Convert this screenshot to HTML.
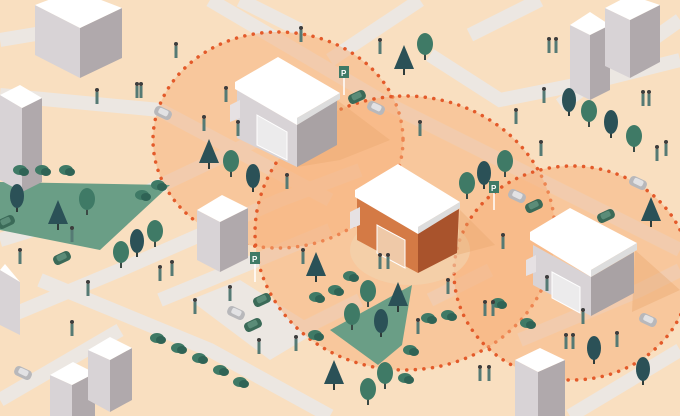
<!DOCTYPE html>
<html><head><meta charset="utf-8"><style>
html,body{margin:0;padding:0;background:#fff}
svg{display:block}
</style></head><body>
<svg width="680" height="416" viewBox="0 0 680 416" xmlns="http://www.w3.org/2000/svg">
<defs>
<g id="tr"><rect x="-1" y="0" width="2" height="12" fill="#3b4a45"/><ellipse cx="0" cy="-4" rx="8" ry="11" fill="#3f7a66"/></g>
<g id="trd"><rect x="-1" y="0" width="2" height="12" fill="#2f3c3a"/><ellipse cx="0" cy="-4" rx="7" ry="12" fill="#2b5157"/></g>
<g id="pine"><rect x="-1" y="4" width="2" height="8" fill="#2f3c3a"/><polygon points="0,-18 -10,6 10,6" fill="#2b5157"/></g>
<g id="bush"><ellipse cx="0" cy="0" rx="7" ry="5" fill="#3f7a66"/><ellipse cx="4" cy="2" rx="5" ry="4" fill="#2f6355"/></g>
<g id="car"><rect x="-9" y="-5" width="18" height="10" rx="4" fill="#b8b8bb" transform="rotate(25)"/><rect x="-5" y="-4" width="10" height="6" rx="2" fill="#e2e2e4" transform="rotate(25)"/></g>
<g id="carg"><rect x="-9" y="-5" width="18" height="10" rx="4" fill="#3b6a58" transform="rotate(-25)"/><rect x="-5" y="-4" width="10" height="6" rx="2" fill="#5b8c78" transform="rotate(-25)"/></g>
<g id="p"><rect x="-1.5" y="-6" width="3" height="12" fill="#557a74"/><circle cx="0" cy="-8" r="2" fill="#3d3d3d"/></g>
</defs>
<rect width="680" height="416" fill="#f9dfc0"/>
<g stroke="#ece7e2" stroke-width="14" fill="none" stroke-linecap="butt">
<path d="M0,40 L60,30"/>
<path d="M0,95 L160,110 L330,200"/>
<path d="M210,0 L380,100 L560,190 L680,250"/>
<path d="M240,0 L300,30"/>
<path d="M330,60 L420,0"/>
<path d="M430,55 L500,100 L600,80 L680,60"/>
<path d="M540,0 L470,35"/>
<path d="M560,105 L680,20"/>
<path d="M0,240 L130,200 L320,110"/>
<path d="M0,320 L120,270 L280,200 L360,170"/>
<path d="M40,280 L210,350 L330,416"/>
<path d="M0,400 L120,330"/>
<path d="M160,300 L330,230"/>
<path d="M300,330 L360,300"/>
<path d="M520,340 L640,290 L680,270"/>
<path d="M570,416 L680,350"/>
<path d="M430,300 L490,270"/>
</g>
<polygon points="190,300 240,280 320,330 270,360" fill="#ece7e2"/>
<g fill="#f7b077" fill-opacity="0.5" stroke="#e35a2a" stroke-width="3.5" stroke-dasharray="0.1 8.5" stroke-linecap="round">
<ellipse cx="278" cy="140" rx="125" ry="108"/>
<ellipse cx="405" cy="233" rx="150" ry="137"/>
<ellipse cx="572" cy="273" rx="118" ry="107"/>
</g>
<ellipse cx="410" cy="250" rx="60" ry="35" fill="#f1d4b0" opacity="0.6"/>
<polygon points="0,182 170,185 100,250 0,230" fill="#6a9e86"/>
<polygon points="330,330 412,285 402,345 378,365" fill="#6a9e86"/>
<polygon points="337,100 390,140 340,160 297,167" fill="#e9a86d" opacity="0.4"/>
<polygon points="460,210 495,245 457,255" fill="#e9a86d" opacity="0.4"/>
<polygon points="635,250 680,290 632,312" fill="#e9a86d" opacity="0.4"/>
<g>
<polygon points="35,5 80,28 80,78 35,55" fill="#d8d3d6"/><polygon points="80,28 122,8 122,58 80,78" fill="#b0a9ac"/><polygon points="35,5 75,-10 122,8 80,28" fill="#fff"/>
<polygon points="0,95 22,108 22,192 0,180" fill="#d8d3d6"/><polygon points="22,108 42,98 42,182 22,192" fill="#b0a9ac"/><polygon points="0,95 20,85 42,98 22,108" fill="#fff"/>
<polygon points="197,210 220,222 220,272 197,260" fill="#d8d3d6"/><polygon points="220,222 248,208 248,258 220,272" fill="#b0a9ac"/><polygon points="197,210 222,195 248,208 220,222" fill="#fff"/>
<polygon points="570,25 590,35 590,100 570,90" fill="#d8d3d6"/><polygon points="590,35 610,25 610,90 590,100" fill="#b0a9ac"/><polygon points="570,25 590,12 610,25 590,35" fill="#fff"/>
<polygon points="605,8 630,20 630,78 605,66" fill="#d8d3d6"/><polygon points="630,20 660,5 660,62 630,78" fill="#b0a9ac"/><polygon points="605,8 630,-5 660,5 630,20" fill="#fff"/>
<polygon points="50,375 72,385 72,416 50,416" fill="#d8d3d6"/><polygon points="72,385 95,373 95,416 72,416" fill="#b0a9ac"/><polygon points="50,375 73,362 95,373 72,385" fill="#fff"/>
<polygon points="88,350 110,360 110,412 88,400" fill="#d8d3d6"/><polygon points="110,360 132,348 132,400 110,412" fill="#b0a9ac"/><polygon points="88,350 110,337 132,348 110,360" fill="#fff"/>
<polygon points="515,360 538,372 538,416 515,416" fill="#d8d3d6"/><polygon points="538,372 565,360 565,416 538,416" fill="#b0a9ac"/><polygon points="515,360 540,348 565,360 538,372" fill="#fff"/>
<polygon points="0,270 20,282 20,335 0,325" fill="#d8d3d6"/><polygon points="0,270 5,264 20,282" fill="#fff"/>
</g>
<polygon points="237,90 297,125 297,167 237,138" fill="#d8d3d6"/>
<polygon points="297,125 337,100 337,145 297,167" fill="#a9a2a4"/>
<polygon points="235,82 278,57 340,93 297,118 297,125 235,89" fill="#fff"/>
<polygon points="297,118 340,93 340,99 297,125" fill="#ddd"/>
<polygon points="257,115 287,132 287,160 257,145" fill="#ecebec" stroke="#fff"/>
<polygon points="230,105 240,100 240,118 230,122" fill="#e6e1e3"/>
<polygon points="357,197 418,232 418,273 357,240" fill="#d47a45"/>
<polygon points="418,232 459,209 457,253 418,273" fill="#a9532c"/>
<polygon points="355,190 398,164 460,202 418,227 418,234 355,197" fill="#fff"/>
<polygon points="418,227 460,202 460,208 418,234" fill="#ddd"/>
<polygon points="377,225 405,240 405,268 377,253" fill="#efc9a8" stroke="#fff"/>
<polygon points="350,212 360,207 360,225 350,229" fill="#e6e1e3"/>
<polygon points="533,245 591,277 591,316 533,285" fill="#d8d3d6"/>
<polygon points="591,277 634,252 634,293 591,316" fill="#a9a2a4"/>
<polygon points="530,232 570,208 637,243 591,270 591,277 530,240" fill="#fff"/>
<polygon points="591,270 637,243 637,250 591,277" fill="#ddd"/>
<polygon points="552,272 580,287 580,313 552,298" fill="#ecebec" stroke="#fff"/>
<polygon points="526,260 536,255 536,272 526,276" fill="#e6e1e3"/>
<g fill="#3f7a66"><rect x="339" y="66" width="10" height="12"/><rect x="489" y="181" width="10" height="12"/><rect x="250" y="252" width="10" height="12"/></g>
<g fill="#fff" font-family="Liberation Sans,sans-serif" font-size="8" font-weight="bold"><text x="341" y="76">P</text><text x="491" y="191">P</text><text x="252" y="262">P</text></g>
<g stroke="#fff" stroke-width="1.5"><line x1="344" y1="78" x2="344" y2="95"/><line x1="494" y1="193" x2="494" y2="210"/><line x1="255" y1="264" x2="255" y2="282"/></g>
<use href="#pine" x="209" y="157"/><use href="#tr" x="231" y="165"/><use href="#trd" x="253" y="180"/>
<use href="#pine" x="404" y="63"/><use href="#tr" x="425" y="48"/>
<use href="#pine" x="58" y="218"/><use href="#trd" x="17" y="200"/><use href="#tr" x="87" y="203"/>
<use href="#tr" x="121" y="256"/><use href="#trd" x="137" y="245"/><use href="#tr" x="155" y="235"/>
<use href="#pine" x="316" y="270"/><use href="#pine" x="398" y="300"/><use href="#tr" x="368" y="295"/><use href="#tr" x="352" y="318"/><use href="#trd" x="381" y="325"/>
<use href="#tr" x="467" y="187"/><use href="#trd" x="484" y="177"/><use href="#tr" x="505" y="165"/>
<use href="#trd" x="569" y="104"/><use href="#tr" x="589" y="115"/><use href="#trd" x="611" y="126"/><use href="#tr" x="634" y="140"/>
<use href="#pine" x="651" y="215"/><use href="#trd" x="594" y="352"/><use href="#trd" x="643" y="373"/>
<use href="#pine" x="334" y="378"/><use href="#tr" x="385" y="377"/><use href="#tr" x="368" y="393"/>
<use href="#bush" x="20" y="170"/><use href="#bush" x="42" y="170"/><use href="#bush" x="66" y="170"/><use href="#bush" x="142" y="195"/><use href="#bush" x="158" y="185"/>
<use href="#bush" x="350" y="276"/><use href="#bush" x="335" y="290"/><use href="#bush" x="316" y="297"/>
<use href="#bush" x="157" y="338"/><use href="#bush" x="178" y="348"/><use href="#bush" x="199" y="358"/><use href="#bush" x="220" y="370"/><use href="#bush" x="240" y="382"/>
<use href="#bush" x="315" y="335"/><use href="#bush" x="410" y="350"/><use href="#bush" x="428" y="318"/><use href="#bush" x="448" y="315"/><use href="#bush" x="498" y="303"/><use href="#bush" x="527" y="323"/><use href="#bush" x="405" y="378"/>
<use href="#car" x="163" y="113"/><use href="#carg" x="357" y="97"/><use href="#car" x="376" y="108"/>
<use href="#car" x="517" y="196"/><use href="#carg" x="534" y="206"/><use href="#car" x="638" y="183"/><use href="#carg" x="606" y="216"/>
<use href="#carg" x="62" y="258"/><use href="#carg" x="262" y="300"/><use href="#car" x="236" y="313"/><use href="#carg" x="253" y="325"/>
<use href="#car" x="648" y="320"/><use href="#car" x="23" y="373"/><use href="#carg" x="6" y="222"/>
<g>
<use href="#p" x="176" y="52"/><use href="#p" x="380" y="48"/><use href="#p" x="97" y="98"/><use href="#p" x="137" y="92"/><use href="#p" x="141" y="92"/><use href="#p" x="226" y="96"/><use href="#p" x="204" y="125"/><use href="#p" x="238" y="130"/><use href="#p" x="287" y="183"/><use href="#p" x="420" y="130"/>
<use href="#p" x="549" y="47"/><use href="#p" x="556" y="47"/><use href="#p" x="544" y="97"/><use href="#p" x="516" y="118"/><use href="#p" x="643" y="100"/><use href="#p" x="649" y="100"/><use href="#p" x="657" y="155"/><use href="#p" x="666" y="150"/><use href="#p" x="541" y="150"/>
<use href="#p" x="72" y="236"/><use href="#p" x="20" y="258"/><use href="#p" x="88" y="290"/><use href="#p" x="160" y="275"/><use href="#p" x="172" y="270"/><use href="#p" x="230" y="295"/><use href="#p" x="195" y="308"/>
<use href="#p" x="303" y="258"/><use href="#p" x="380" y="263"/><use href="#p" x="388" y="263"/><use href="#p" x="448" y="288"/><use href="#p" x="418" y="328"/><use href="#p" x="503" y="243"/>
<use href="#p" x="485" y="310"/><use href="#p" x="493" y="310"/><use href="#p" x="547" y="285"/><use href="#p" x="583" y="318"/><use href="#p" x="566" y="343"/><use href="#p" x="573" y="343"/><use href="#p" x="617" y="341"/>
<use href="#p" x="480" y="375"/><use href="#p" x="489" y="375"/><use href="#p" x="296" y="345"/><use href="#p" x="259" y="348"/><use href="#p" x="72" y="330"/><use href="#p" x="301" y="36"/>
</g>
</svg>
</body></html>
